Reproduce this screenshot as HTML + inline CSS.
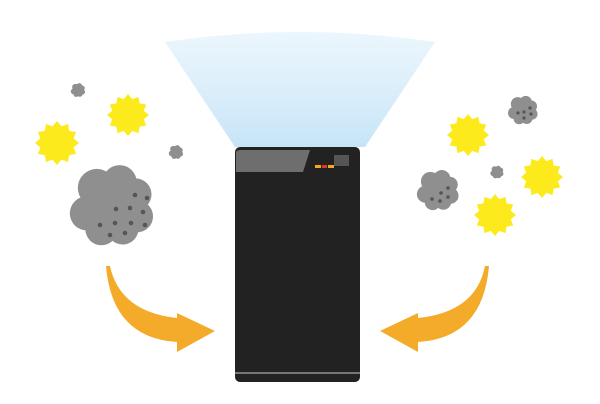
<!DOCTYPE html>
<html><head><meta charset="utf-8"><style>html,body{margin:0;padding:0;background:#fff}svg{display:block}</style></head>
<body>
<svg width="600" height="404" viewBox="0 0 600 404" xmlns="http://www.w3.org/2000/svg">
<defs>
<linearGradient id="lg" x1="0" y1="0" x2="0" y2="1">
<stop offset="0" stop-color="#e3f2fc" stop-opacity="0.7"/>
<stop offset="1" stop-color="#c6e4f7"/>
</linearGradient>
<polygon id="st" points="1,0 .753,.202 .866,.5 .552,.552 .5,.866 .202,.753 0,1 -.202,.753 -.5,.866 -.552,.552 -.866,.5 -.753,.202 -1,0 -.753,-.202 -.866,-.5 -.552,-.552 -.5,-.866 -.202,-.753 0,-1 .202,-.753 .5,-.866 .552,-.552 .866,-.5 .753,-.202" fill="#fdea1c"/>
<g id="cl" fill="#8f8f8f">
<circle cx="0" cy="0" r=".85"/>
<circle cx="-.4" cy="-.45" r=".5"/><circle cx=".2" cy="-.6" r=".45"/><circle cx=".62" cy="-.28" r=".42"/>
<circle cx=".66" cy=".3" r=".42"/><circle cx=".28" cy=".62" r=".42"/><circle cx="-.28" cy=".64" r=".42"/>
<circle cx="-.66" cy=".22" r=".45"/>
</g>
</defs>
<path d="M165 42 Q300 22 435 42 L365 147 L235 147 Z" fill="url(#lg)"/>
<rect x="235" y="147" width="125" height="235" rx="5" fill="#222"/>
<path d="M236 153 Q236 150 240 150 L310 150 L303 172 L236 172 Z" fill="#6e6e6e"/>
<rect x="334" y="155" width="15" height="11" fill="#555"/>
<rect x="315" y="165" width="6" height="3" fill="#f5a623"/>
<rect x="322" y="165" width="5" height="3" fill="#e03a1c"/>
<rect x="328" y="165" width="6" height="3" fill="#f5a623"/>
<rect x="235" y="372" width="125" height="2" fill="#777"/>
<use href="#st" transform="translate(57,143) scale(22)"/>
<use href="#st" transform="translate(128,115) scale(21)"/>
<use href="#cl" transform="translate(78,90) scale(6.5)"/>
<use href="#cl" transform="translate(176,152) scale(6.5)"/>
<use href="#cl" transform="translate(112,205) scale(38)"/>
<g fill="#555">
<circle cx="135" cy="195" r="2.3"/><circle cx="147" cy="198" r="2.3"/><circle cx="116" cy="209" r="2.3"/><circle cx="130" cy="208" r="2.3"/><circle cx="143" cy="212" r="2.3"/>
<circle cx="100" cy="225" r="2.3"/><circle cx="115" cy="223" r="2.3"/><circle cx="131" cy="223" r="2.3"/><circle cx="145" cy="225" r="2.3"/><circle cx="110" cy="235" r="2.3"/><circle cx="125" cy="233" r="2.3"/>
</g>
<use href="#st" transform="translate(468,135) scale(21)"/>
<use href="#st" transform="translate(542,177) scale(21)"/>
<use href="#st" transform="translate(495,215) scale(21)"/>
<use href="#cl" transform="translate(438,190) scale(19)"/>
<use href="#cl" transform="translate(523,110) scale(13.5)"/>
<use href="#cl" transform="translate(497,172) scale(6)"/>
<g fill="#555">
<circle cx="448" cy="188" r="1.8"/><circle cx="441" cy="193" r="1.8"/><circle cx="432" cy="199" r="1.8"/><circle cx="448" cy="197" r="1.8"/><circle cx="440" cy="201" r="1.8"/>
<circle cx="530" cy="108" r="1.6"/><circle cx="524" cy="112" r="1.6"/><circle cx="518" cy="113" r="1.6"/><circle cx="531" cy="114" r="1.6"/><circle cx="524" cy="118" r="1.6"/>
</g>
<path d="M106 266 L110 266 Q120 312 177 318 L177 313 L215 331 L177 352 L177 342 Q112 338 106 266 Z" fill="#f4ab2a"/>
<path d="M489 266 L485 266 Q476 312 418 318 L418 313 L380 331 L418 352 L418 342 Q483 338 489 266 Z" fill="#f4ab2a"/>
</svg>
</body></html>
